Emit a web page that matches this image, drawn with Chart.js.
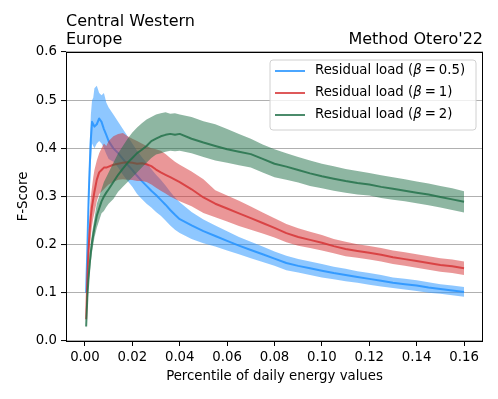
<!DOCTYPE html>
<html>
<head>
<meta charset="utf-8">
<script src="https://cdn.jsdelivr.net/npm/chart.js@4.4.1/dist/chart.umd.min.js"></script>
<style>
    html, body { margin: 0; padding: 0; background: #fff; }
</style>
</head>
<body>
<canvas id="chart" width="498" height="399"></canvas>
<script>
// percentile of daily energy values (x)
var percentiles = [0.0005, 0.001, 0.0015, 0.002, 0.0025, 0.003, 0.0035, 0.004,
    0.005, 0.006, 0.007, 0.008, 0.009, 0.010,
    0.012, 0.014, 0.016, 0.018, 0.020, 0.022, 0.024, 0.026, 0.028, 0.030, 0.032, 0.034, 0.036, 0.038, 0.040,
    0.045, 0.050, 0.055, 0.060, 0.065, 0.070, 0.075, 0.080,
    0.085, 0.090, 0.095, 0.100, 0.105, 0.110, 0.115, 0.120, 0.125, 0.130, 0.135, 0.140, 0.145, 0.150, 0.155, 0.160];

// beta = 0.5
var blueMid = [0.10, 0.19, 0.29, 0.36, 0.42, 0.455, 0.45, 0.445,
    0.45, 0.462, 0.455, 0.44, 0.428, 0.415,
    0.40, 0.39, 0.378, 0.366, 0.355, 0.343, 0.332, 0.322, 0.312, 0.303, 0.293, 0.283, 0.272, 0.262, 0.253,
    0.24, 0.228, 0.218, 0.208, 0.198, 0.189, 0.18, 0.171,
    0.162, 0.156, 0.151, 0.146, 0.141, 0.137, 0.133, 0.129, 0.125, 0.121, 0.118, 0.115, 0.111, 0.108, 0.105, 0.102];
var blueHigh = [0.10, 0.22, 0.33, 0.41, 0.47, 0.50, 0.505, 0.525,
    0.53, 0.515, 0.51, 0.515, 0.495, 0.485,
    0.47, 0.455, 0.44, 0.425, 0.41, 0.395, 0.382, 0.37, 0.357, 0.345, 0.335, 0.323, 0.31, 0.298, 0.288,
    0.268, 0.252, 0.24, 0.228, 0.216, 0.206, 0.196, 0.186,
    0.177, 0.170, 0.165, 0.160, 0.154, 0.150, 0.145, 0.141, 0.137, 0.132, 0.129, 0.126, 0.122, 0.118, 0.115, 0.112];
var blueLow = [0.10, 0.17, 0.25, 0.31, 0.37, 0.41, 0.405, 0.40,
    0.41, 0.415, 0.41, 0.40, 0.388, 0.378,
    0.372, 0.36, 0.345, 0.332, 0.32, 0.305, 0.295, 0.285, 0.277, 0.268, 0.26, 0.25, 0.24, 0.231, 0.224,
    0.212, 0.203, 0.196, 0.188, 0.18, 0.172, 0.164, 0.156,
    0.147, 0.142, 0.137, 0.132, 0.128, 0.124, 0.121, 0.117, 0.113, 0.110, 0.107, 0.104, 0.100, 0.098, 0.095, 0.092];

// beta = 1
var redMid = [0.045, 0.13, 0.19, 0.23, 0.26, 0.28, 0.295, 0.31,
    0.335, 0.35, 0.355, 0.36, 0.36, 0.362,
    0.366, 0.368, 0.37, 0.371, 0.37, 0.368, 0.369, 0.367, 0.363, 0.356, 0.35, 0.345, 0.34, 0.335, 0.33,
    0.315, 0.298, 0.285, 0.275, 0.265, 0.255, 0.245, 0.235,
    0.224, 0.216, 0.21, 0.204, 0.197, 0.191, 0.187, 0.183, 0.179, 0.174, 0.17, 0.166, 0.162, 0.158, 0.155, 0.151];
var redHigh = [0.05, 0.15, 0.22, 0.27, 0.30, 0.32, 0.34, 0.355,
    0.375, 0.39, 0.40, 0.41, 0.405, 0.415,
    0.425, 0.43, 0.432, 0.425, 0.42, 0.415, 0.41, 0.405, 0.40, 0.398, 0.395, 0.388, 0.38, 0.372, 0.366,
    0.352, 0.336, 0.313, 0.302, 0.291, 0.279, 0.267, 0.255,
    0.243, 0.234, 0.227, 0.22, 0.212, 0.206, 0.201, 0.197, 0.193, 0.188, 0.184, 0.18, 0.176, 0.172, 0.169, 0.165];
var redLow = [0.04, 0.11, 0.16, 0.19, 0.22, 0.24, 0.255, 0.265,
    0.29, 0.305, 0.31, 0.315, 0.32, 0.325,
    0.33, 0.335, 0.336, 0.335, 0.334, 0.332, 0.332, 0.33, 0.325, 0.318, 0.312, 0.306, 0.30, 0.295, 0.29,
    0.28, 0.266, 0.257, 0.248, 0.239, 0.231, 0.223, 0.215,
    0.205, 0.198, 0.193, 0.188, 0.182, 0.176, 0.173, 0.169, 0.165, 0.16, 0.156, 0.152, 0.148, 0.144, 0.141, 0.137];

// beta = 2
var greenMid = [0.03, 0.09, 0.13, 0.16, 0.185, 0.205, 0.22, 0.235,
    0.26, 0.275, 0.29, 0.30, 0.308, 0.315,
    0.33, 0.345, 0.358, 0.37, 0.38, 0.39, 0.397, 0.405, 0.415, 0.42, 0.425, 0.428, 0.43, 0.428, 0.43,
    0.42, 0.412, 0.405, 0.398, 0.393, 0.388, 0.378, 0.368,
    0.362, 0.355, 0.348, 0.342, 0.337, 0.332, 0.328, 0.325, 0.32, 0.316, 0.312, 0.308, 0.304, 0.299, 0.294, 0.289];
var greenHigh = [0.035, 0.10, 0.145, 0.18, 0.205, 0.225, 0.24, 0.255,
    0.285, 0.30, 0.315, 0.33, 0.34, 0.35,
    0.37, 0.39, 0.405, 0.42, 0.433, 0.443, 0.452, 0.46, 0.465, 0.47, 0.473, 0.475, 0.472, 0.473, 0.47,
    0.465, 0.456, 0.45, 0.44, 0.43, 0.42, 0.408, 0.398,
    0.39, 0.382, 0.375, 0.368, 0.363, 0.357, 0.353, 0.349, 0.344, 0.34, 0.336, 0.331, 0.327, 0.322, 0.317, 0.311];
var greenLow = [0.025, 0.08, 0.115, 0.14, 0.165, 0.185, 0.2, 0.215,
    0.235, 0.25, 0.265, 0.27, 0.278, 0.285,
    0.295, 0.31, 0.32, 0.33, 0.34, 0.35, 0.36, 0.37, 0.38, 0.387, 0.39, 0.393, 0.395, 0.394, 0.395,
    0.39, 0.382, 0.375, 0.37, 0.365, 0.36, 0.35, 0.34,
    0.335, 0.329, 0.322, 0.317, 0.312, 0.308, 0.304, 0.302, 0.297, 0.293, 0.29, 0.286, 0.282, 0.277, 0.272, 0.267];

var xTicks = [0, 0.02, 0.04, 0.06, 0.08, 0.10, 0.12, 0.14, 0.16];
var yTicks = [0, 0.1, 0.2, 0.3, 0.4, 0.5, 0.6];
var betaLabels = ['0.5', '1', '2'];

var FONT = "'DejaVu Sans', sans-serif";
var colors = [[30, 144, 255], [214, 48, 49], [30, 110, 70]];

function rgba(c, a) {
    return 'rgba(' + c[0] + ',' + c[1] + ',' + c[2] + ',' + a + ')';
}

function toPoints(ys) {
    return ys.map(function (y, i) { return { x: percentiles[i], y: y }; });
}

var series = [
    { mid: blueMid, high: blueHigh, low: blueLow },
    { mid: redMid, high: redHigh, low: redLow },
    { mid: greenMid, high: greenHigh, low: greenLow }
];

var datasets = [];
series.forEach(function (s, k) {
    var c = colors[k];
    var base = 9 - k * 3;
    datasets.push({ data: toPoints(s.low), borderWidth: 0, pointRadius: 0, fill: false, order: base });
    datasets.push({ data: toPoints(s.high), borderWidth: 0, pointRadius: 0, fill: '-1',
        backgroundColor: rgba(c, 0.5), order: base - 1 });
    datasets.push({ data: toPoints(s.mid), borderColor: rgba(c, 0.8), borderWidth: 2, pointRadius: 0,
        fill: false, tension: 0, borderJoinStyle: 'round', order: base - 2 });
});

var framePlugin = {
    id: 'frame',
    afterDraw: function (chart) {
        var ctx = chart.ctx, a = chart.chartArea;
        ctx.save();
        ctx.strokeStyle = '#000';
        ctx.lineWidth = 1;
        ctx.strokeRect(a.left + 0.5, a.top + 0.5, a.right - a.left - 1, a.bottom - a.top);

        // titles
        ctx.fillStyle = '#000';
        ctx.font = '16px ' + FONT;
        ctx.textBaseline = 'alphabetic';
        ctx.textAlign = 'left';
        ctx.fillText('Central Western', a.left, 26);
        ctx.fillText('Europe', a.left, 44);
        ctx.textAlign = 'right';
        ctx.fillText("Method Otero'22", a.right, 44);

        // axis titles
        ctx.font = '13.3px ' + FONT;
        ctx.textAlign = 'center';
        ctx.fillText('Percentile of daily energy values', (a.left + a.right) / 2, 380);
        ctx.save();
        ctx.translate(27, (a.top + a.bottom) / 2);
        ctx.rotate(-Math.PI / 2);
        ctx.fillText('F-Score', 0, 0);
        ctx.restore();

        // legend
        var bx = 270, by = 60, bw = 206, bh = 70, r = 3;
        ctx.beginPath();
        ctx.moveTo(bx + r, by);
        ctx.arcTo(bx + bw, by, bx + bw, by + bh, r);
        ctx.arcTo(bx + bw, by + bh, bx, by + bh, r);
        ctx.arcTo(bx, by + bh, bx, by, r);
        ctx.arcTo(bx, by, bx + bw, by, r);
        ctx.closePath();
        ctx.fillStyle = 'rgba(255,255,255,0.8)';
        ctx.fill();
        ctx.strokeStyle = '#d0d0d0';
        ctx.stroke();

        betaLabels.forEach(function (b, i) {
            var y = 71 + i * 22;
            ctx.strokeStyle = rgba(colors[i], 0.8);
            ctx.lineWidth = 2;
            ctx.beginPath();
            ctx.moveTo(275, y);
            ctx.lineTo(305, y);
            ctx.stroke();

            ctx.fillStyle = '#000';
            ctx.textAlign = 'left';
            ctx.textBaseline = 'middle';
            var x = 315;
            ctx.font = '13.3px ' + FONT;
            var t1 = 'Residual load (';
            ctx.fillText(t1, x, y);
            x += ctx.measureText(t1).width;
            ctx.font = 'italic 13.3px ' + FONT;
            ctx.fillText('\u03b2', x, y);
            x += ctx.measureText('\u03b2').width + 3;
            ctx.font = '13.3px ' + FONT;
            ctx.fillText('=', x, y);
            x += ctx.measureText('=').width + 3;
            ctx.fillText(b + ')', x, y);
        });
        ctx.restore();
    }
};

Chart.defaults.font.family = FONT;
Chart.defaults.color = '#000';

new Chart(document.getElementById('chart'), {
    type: 'line',
    data: { datasets: datasets },
    options: {
        responsive: false,
        animation: false,
        devicePixelRatio: 1,
        layout: { padding: { top: 52, right: 15, left: 0, bottom: 0 } },
        plugins: { legend: { display: false }, tooltip: { enabled: false } },
        scales: {
            x: {
                type: 'linear',
                min: -0.008,
                max: 0.168,
                afterBuildTicks: function (s) { s.ticks = xTicks.map(function (v) { return { value: v }; }); },
                afterFit: function (s) { s.height = 58; },
                ticks: {
                    autoSkip: false, maxRotation: 0, padding: 4,
                    font: { size: 13.3 },
                    callback: function (v) { return v.toFixed(2); }
                },
                grid: { drawOnChartArea: false, drawTicks: true, tickLength: 5, tickColor: '#000', tickWidth: 1 },
                border: { display: false }
            },
            y: {
                min: 0,
                max: 0.6,
                afterBuildTicks: function (s) { s.ticks = yTicks.map(function (v) { return { value: v }; }); },
                afterFit: function (s) { s.width = 66; },
                ticks: {
                    padding: 4,
                    font: { size: 13.3 },
                    callback: function (v) { return v.toFixed(1); }
                },
                grid: { color: '#b0b0b0', lineWidth: 1.1, drawTicks: true, tickLength: 5, tickColor: '#000', tickWidth: 1 },
                border: { display: false }
            }
        }
    },
    plugins: [framePlugin]
});
</script>
</body>
</html>
